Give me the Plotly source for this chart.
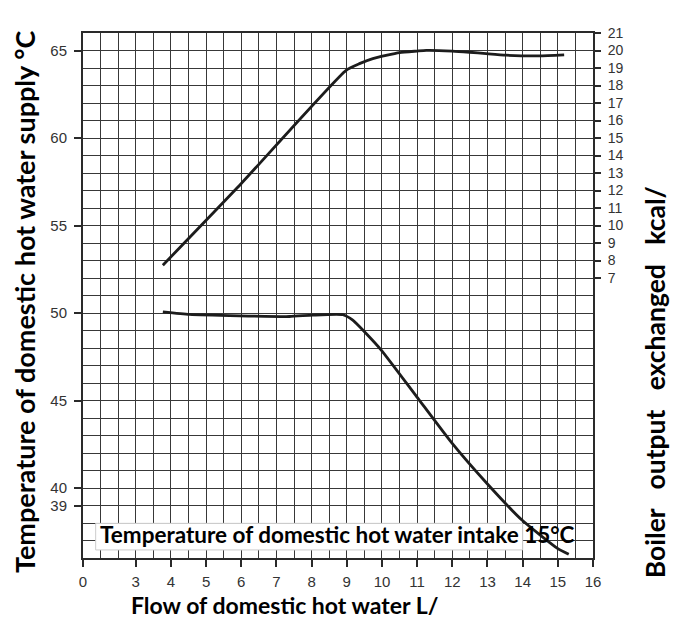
import plotly.graph_objects as go

# ---- data ----
# x axis: the left edge is a broken-axis "0" placed at 1.5
x_tick_vals = [1.5, 3, 4, 5, 6, 7, 8, 9, 10, 11, 12, 13, 14, 15, 16]
x_tick_text = ["0", "3", "4", "5", "6", "7", "8", "9", "10", "11", "12", "13", "14", "15", "16"]
left_tick_vals = [39, 40, 45, 50, 55, 60, 65]
right_tick_vals = [7, 8, 9, 10, 11, 12, 13, 14, 15, 16, 17, 18, 19, 20, 21]

# boiler output exchanged (right axis)
output_flow = [3.77, 6.0, 8.98, 9.36, 9.74, 10.5, 11.0, 11.26, 12.0, 12.49, 12.96, 13.53, 14.47, 15.18]
output_kcal = [7.73, 12.4, 18.87, 19.25, 19.54, 19.88, 19.97, 20.01, 19.97, 19.9, 19.82, 19.73, 19.69, 19.75]

# domestic hot water supply temperature (left axis)
supply_flow = [3.77, 4.53, 5.95, 7.37, 8.03, 8.89, 9.17, 9.55, 9.98, 10.99, 11.98, 12.98, 13.98, 14.99, 15.31]
supply_temp = [50.07, 49.92, 49.84, 49.8, 49.88, 49.9, 49.59, 48.83, 47.88, 45.21, 42.59, 40.27, 38.17, 36.55, 36.21]

note_text = "Temperature of domestic hot water intake 15°C"
left_title = "Temperature of domestic hot water supply °C"
right_title = "Boiler\u00a0\u00a0\u00a0output\u00a0\u00a0\u00a0exchanged\u00a0\u00a0\u00a0kcal/"
bottom_title = "Flow of domestic hot water L/"

# ---- figure ----
line_col = "#1c1c1c"
grid_col = "#383838"
axis_col = "#2a2a2a"
tick_font = dict(family="Liberation Sans, Arial, sans-serif", size=15, color="#333333")
bold = dict(family="Lato, sans-serif", color="#000000", weight=700)

fig = go.Figure()
fig.add_trace(go.Scatter(x=supply_flow, y=supply_temp, mode="lines",
                         line=dict(color=line_col, width=2.8, shape="spline", smoothing=0.5),
                         showlegend=False, hoverinfo="skip"))
fig.add_trace(go.Scatter(x=output_flow, y=output_kcal, mode="lines", yaxis="y2",
                         line=dict(color=line_col, width=2.8, shape="spline", smoothing=0.5),
                         showlegend=False, hoverinfo="skip"))

fig.update_layout(
    width=683, height=619,
    margin=dict(l=75, r=98, t=25, b=69),
    paper_bgcolor="white", plot_bgcolor="white",
    showlegend=False,
    xaxis=dict(range=[1.5, 16], tickmode="array", tickvals=x_tick_vals, ticktext=x_tick_text,
               ticks="outside", ticklen=7, tickwidth=1.5, tickcolor=axis_col,
               showline=True, linecolor=axis_col, linewidth=2, mirror=True,
               showgrid=False, zeroline=False, tickfont=tick_font, ticklabelstandoff=2,
               minor=dict(tickmode="linear", tick0=1.5, dtick=0.5, showgrid=True,
                          gridcolor=grid_col, gridwidth=1, ticks="")),
    yaxis=dict(range=[36, 66], tickmode="array", tickvals=left_tick_vals,
               ticks="outside", ticklen=7, tickwidth=1.5, tickcolor=axis_col,
               showline=True, linecolor=axis_col, linewidth=2, mirror=True,
               showgrid=False, zeroline=False, tickfont=tick_font, ticklabelstandoff=4,
               minor=dict(tickmode="linear", tick0=36, dtick=1, showgrid=True,
                          gridcolor=grid_col, gridwidth=1, ticks="")),
    yaxis2=dict(range=[-9, 21], overlaying="y", side="right", tickmode="array",
                tickvals=right_tick_vals, ticks="outside", ticklen=7, tickwidth=1.5,
                tickcolor=axis_col, showline=False, showgrid=False, zeroline=False,
                tickfont=dict(tick_font, size=14), ticklabelstandoff=4),
)

fig.add_shape(type="rect", xref="x", yref="y", x0=1.86, x1=14.0, y0=36.46, y1=37.98,
              fillcolor="white", line=dict(color="#cccccc", width=1), layer="between")

fig.add_annotation(text=note_text, xref="paper", yref="paper", x=0.029, y=0.045,
                   xanchor="left", yanchor="middle", showarrow=False,
                   font=dict(bold, size=22.5))
fig.add_annotation(text=left_title, xref="paper", yref="paper", x=-0.1157, y=0.4876,
                   xanchor="center", yanchor="middle", textangle=-90, showarrow=False,
                   font=dict(bold, size=27))
fig.add_annotation(text=right_title, xref="paper", yref="paper", x=1.1216, y=0.335,
                   xanchor="center", yanchor="middle", textangle=-90, showarrow=False,
                   font=dict(bold, size=26.5))
fig.add_annotation(text=bottom_title, xref="paper", yref="paper", x=0.396, y=-0.0895,
                   xanchor="center", yanchor="middle", showarrow=False,
                   font=dict(bold, size=23))

fig.write_html("out.html")
